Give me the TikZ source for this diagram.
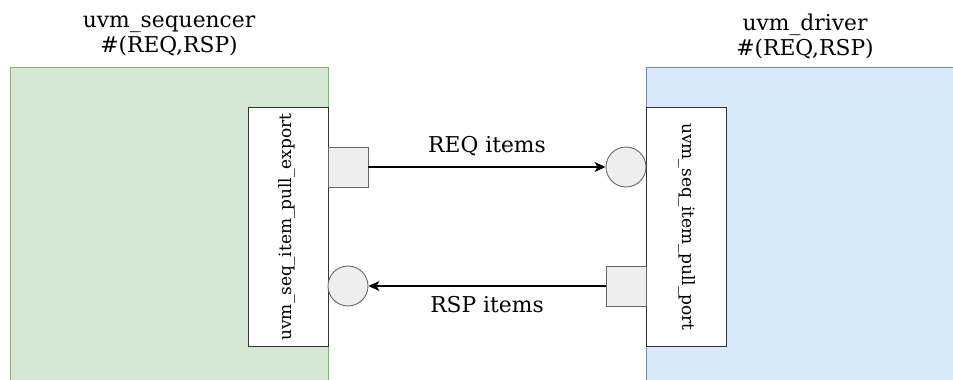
\documentclass[tikz,border=0pt]{standalone}
\usepackage{fontspec}
\setmainfont{DejaVu Serif}
\usetikzlibrary{arrows.meta}
\definecolor{seqfill}{HTML}{D5E8D4}
\definecolor{seqline}{HTML}{82B366}
\definecolor{drvfill}{HTML}{DAE8FC}
\definecolor{drvline}{HTML}{6C8EBF}
\definecolor{portfill}{HTML}{EEEEEE}
\definecolor{portline}{HTML}{666666}
\definecolor{boxline}{HTML}{333333}
\tikzset{
  comp/.style={draw, line width=0.8pt, anchor=north west, inner sep=0pt},
  tlmbox/.style={draw=boxline, fill=white, line width=0.9pt, anchor=north west, minimum width=80pt, minimum height=239pt, inner sep=0pt},
  portsq/.style={draw=portline, fill=portfill, line width=0.9pt, minimum size=40pt, inner sep=0pt},
  exportc/.style={circle, draw=portline, fill=portfill, line width=0.9pt, minimum size=40pt, inner sep=0pt},
  title/.style={align=center, font=\fontsize{21.8}{25}\selectfont},
  vlabel/.style={font=\fontsize{17}{18}\selectfont},
  alabel/.style={font=\fontsize{21.8}{24}\selectfont, inner sep=0pt},
  conn/.style={line width=1.3pt, -{Stealth[length=11pt,width=10pt,inset=3pt]}}
}
\begin{document}
\begin{tikzpicture}[x=1pt,y=-1pt]
\useasboundingbox (0,0) rectangle (953,380);
% components
\node[comp, draw=seqline, fill=seqfill, minimum width=318pt, minimum height=320pt] (seq) at (10,67) {};
\node[comp, draw=drvline, fill=drvfill, minimum width=315pt, minimum height=320pt] (drv) at (646,67) {};
\node[title] (seqt) at (169,36) {uvm\_sequencer\\\#(REQ,RSP)};
\node[title] (drvt) at (805,36) {uvm\_driver\\\#(REQ,RSP)};
% TLM boxes
\node[tlmbox] (exp) at (248,107) {};
\node[vlabel, rotate=90] (expt) at ([xshift=-1pt]exp.center) {uvm\_seq\_item\_pull\_export};
\node[tlmbox] (prt) at (646,107) {};
\node[vlabel, rotate=-90] (prtt) at (prt.center) {uvm\_seq\_item\_pull\_port};
% ports
\node[portsq] (sqA) at (348,167) {};
\node[exportc] (ciA) at (626,167) {};
\node[exportc] (ciB) at (348,286) {};
\node[portsq] (sqB) at (626,286) {};
% connectors
\draw[conn] (sqA.east) -- node[alabel, above=10pt] (reql) {REQ items} (ciA.west);
\draw[conn] (sqB.west) -- node[alabel, below=10pt] (rspl) {RSP items} (ciB.east);
\end{tikzpicture}
\end{document}
